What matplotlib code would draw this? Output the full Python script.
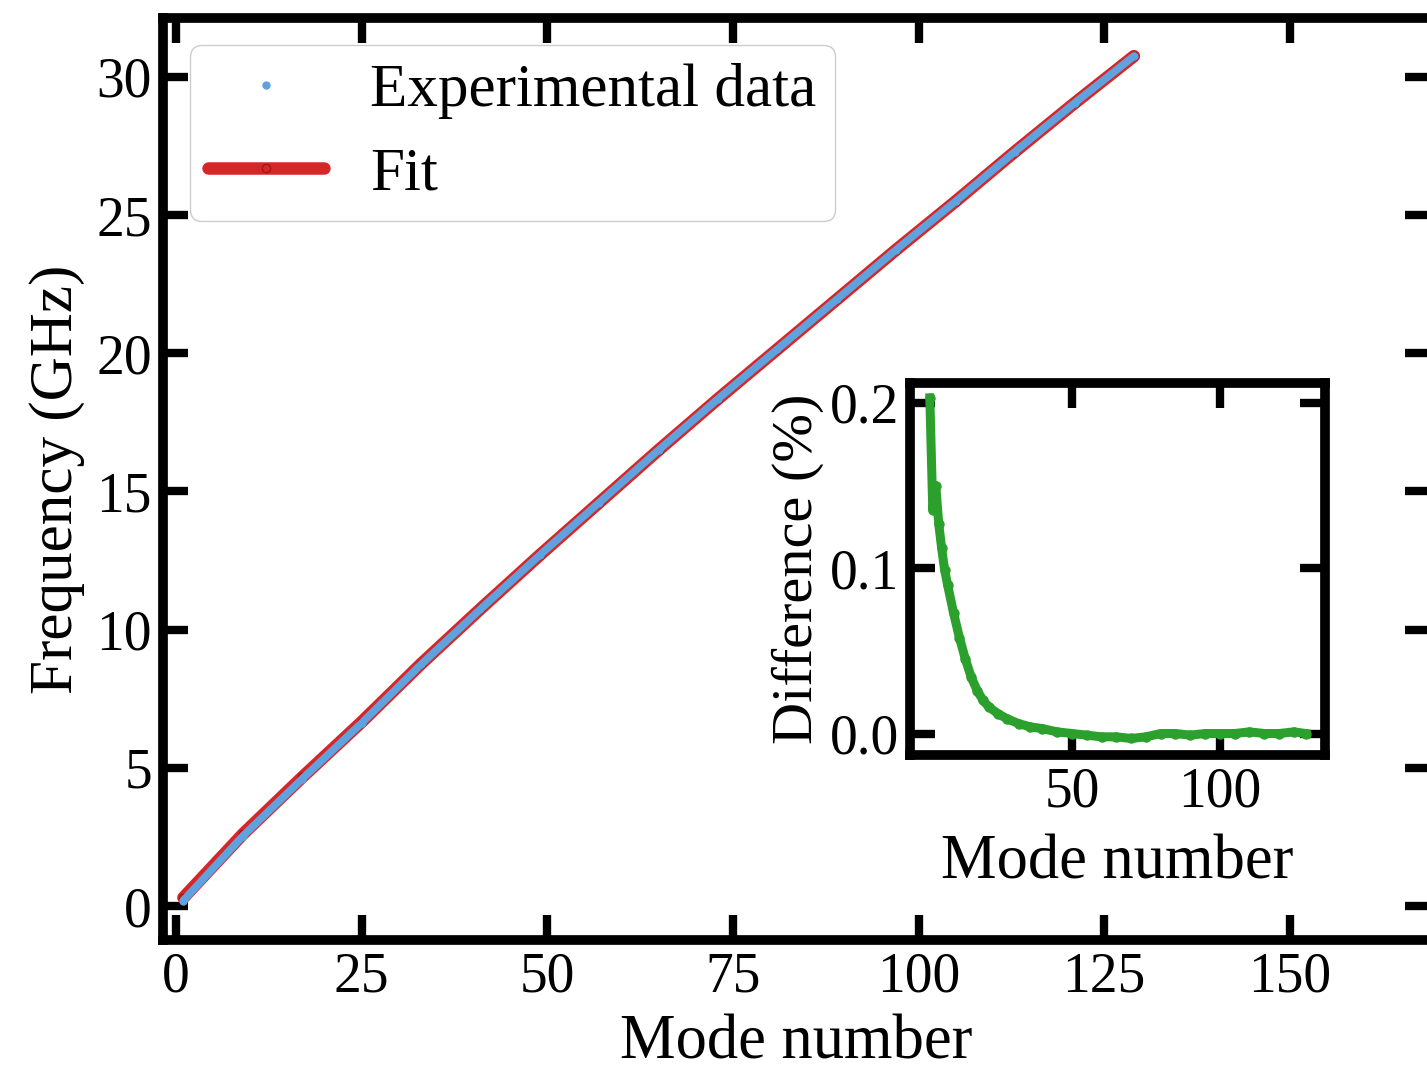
import numpy as np
import matplotlib
matplotlib.use("Agg")
import matplotlib.pyplot as plt

# main panel: mode number vs frequency (GHz)
modes = [1, 9, 17, 25, 33, 41, 49, 57, 65, 73, 81, 89, 97, 105, 113, 121, 129]
freq_exp = [0.2, 2.53, 4.6, 6.62, 8.74, 10.74, 12.7, 14.6, 16.5, 18.35,
            20.15, 21.95, 23.75, 25.5, 27.3, 29.05, 30.75]
freq_fit = [0.3, 2.6, 4.66, 6.66, 8.76, 10.75, 12.7, 14.6, 16.5, 18.35,
            20.15, 21.95, 23.75, 25.5, 27.3, 29.05, 30.75]

# inset: relative difference (%)
modes_diff = [2, 3, 4, 5, 6, 7, 8, 10, 12, 14, 16, 18, 20, 22, 25, 28, 32, 36,
              40, 45, 50, 55, 60, 65, 70, 75, 80, 85, 90, 95, 100, 105, 110,
              115, 120, 125, 129]
diff = [0.203, 0.135, 0.150, 0.127, 0.112, 0.099, 0.090, 0.073, 0.058, 0.045,
        0.034, 0.026, 0.020, 0.016, 0.012, 0.009, 0.006, 0.004, 0.003, 0.001,
        0.0, -0.001, -0.002, -0.002, -0.003, -0.002, 0.0, 0.0, -0.001, 0.0,
        0.0, 0.0, 0.001, 0.0, 0.0, 0.001, 0.0]

plt.rcParams['font.family'] = ['Liberation Serif', 'DejaVu Serif']
fs = 40      # tick labels
fs_lab = 45  # axis labels
blue = '#5fa2dd'
red = '#d62728'
green = '#2ca02c'

fig = plt.figure(figsize=(14.27, 10.72), dpi=100)
ax = fig.add_axes([0.1142, 0.1231, 1.002 - 0.1142, 0.9832 - 0.1231])

ax.plot(modes, freq_fit, '-o', color=red, lw=9, ms=6, mec='#b01010',
        solid_capstyle='round', label='Fit')
ax.plot(modes, freq_exp, '-', color=blue, lw=5.5, solid_capstyle='round')
ax.plot(modes, freq_exp, 'o', color=blue, ms=5, label='Experimental data')

ax.set_xlim(-1.75, 168.85)
ax.set_ylim(-1.23, 32.13)
ax.set_xticks([0, 25, 50, 75, 100, 125, 150])
ax.set_yticks([0, 5, 10, 15, 20, 25, 30])
ax.tick_params(direction='in', length=18, width=6, labelsize=fs, pad=8,
               top=True, right=True)
for s in ax.spines.values():
    s.set_linewidth(7)
ax.set_xlabel('Mode number', fontsize=fs_lab, labelpad=8)
ax.set_ylabel('Frequency (GHz)', fontsize=44, labelpad=8)

handles, labels = ax.get_legend_handles_labels()
leg = ax.legend([handles[1], handles[0]], [labels[1], labels[0]],
                loc='upper left', bbox_to_anchor=(0.0213, 0.9707),
                borderaxespad=0, fontsize=44, handlelength=1.9,
                handletextpad=0.75, labelspacing=0.45, borderpad=0.3,
                fancybox=True, framealpha=1, edgecolor='#cccccc')

# inset
ins = fig.add_axes([0.6377, 0.2957, 0.9285 - 0.6377, 0.6427 - 0.2957])
ins.plot(modes_diff, diff, '-o', color=green, lw=6.5, ms=6.5)
ins.set_xlim(-4.7, 135.5)
ins.set_ylim(-0.013, 0.212)
ins.set_xticks([50, 100])
ins.set_yticks([0.0, 0.1, 0.2])
ins.tick_params(direction='in', length=18, width=6, labelsize=fs, pad=8,
                top=True, right=True)
for s in ins.spines.values():
    s.set_linewidth(7)
ins.set_xlabel('Mode number', fontsize=fs_lab, labelpad=12)
ins.set_ylabel('Difference (%)', fontsize=42, labelpad=4)

fig.savefig('out.png', dpi=100)
